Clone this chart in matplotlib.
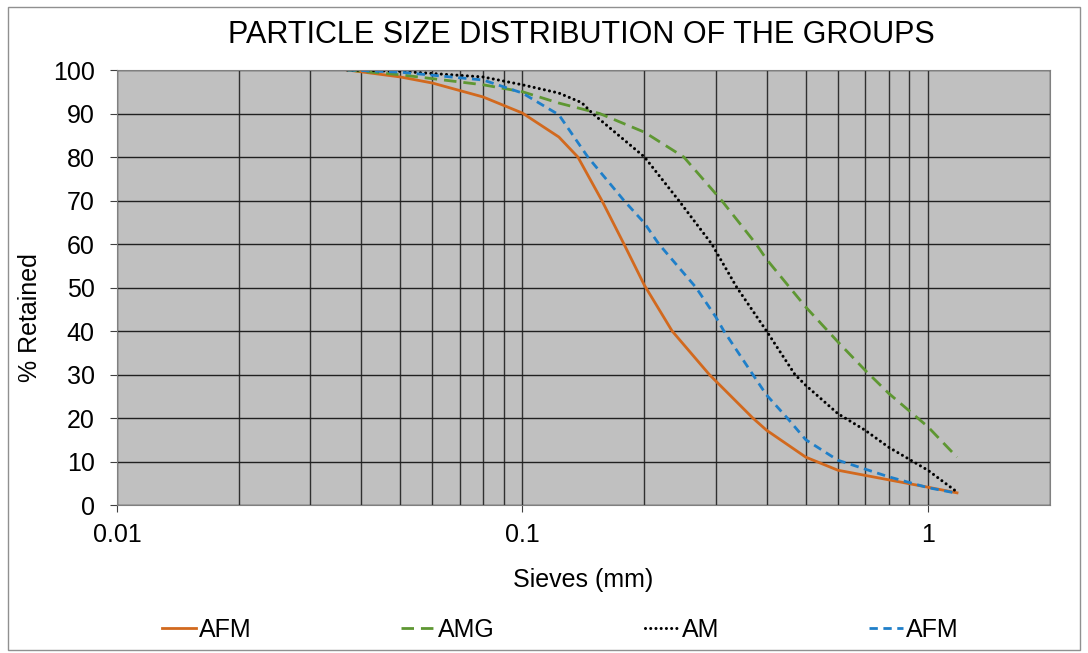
import numpy as np
import matplotlib.pyplot as plt
from matplotlib.patches import Rectangle
from matplotlib.ticker import FixedLocator, NullFormatter

plt.rcParams['font.family'] = ['Liberation Sans', 'DejaVu Sans']

# sieve sizes (mm) and % retained
afm1_x = [0.037, 0.05, 0.06, 0.08, 0.1, 0.123, 0.137, 0.157, 0.178, 0.2, 0.234, 0.289, 0.37, 0.4, 0.5, 0.6, 0.8, 1.0, 1.18]
afm1_y = [100, 98.4, 97, 93.8, 90.1, 84.6, 80, 70, 60, 50.5, 40, 30, 20, 17.2, 11, 8, 5.8, 4.1, 2.8]

amg_x = [0.037, 0.05, 0.08, 0.1, 0.123, 0.155, 0.2, 0.25, 0.31, 0.377, 0.4, 0.5, 0.6, 0.7, 0.8, 1.0, 1.18]
amg_y = [100, 98.9, 96.6, 95, 92.4, 90, 85.7, 80, 70, 60, 56.5, 45.5, 37.5, 31, 25.7, 18, 11]

am_x = [0.037, 0.05, 0.08, 0.1, 0.123, 0.14, 0.149, 0.2, 0.243, 0.293, 0.338, 0.4, 0.47, 0.5, 0.6, 0.7, 0.8, 1.0, 1.18]
am_y = [100, 99.7, 98.4, 96.6, 94.7, 92.5, 90, 80, 70, 60, 50, 40, 30, 27.5, 21, 17.2, 13.3, 8, 3]

afm2_x = [0.037, 0.05, 0.08, 0.1, 0.123, 0.145, 0.178, 0.2, 0.217, 0.268, 0.3, 0.314, 0.37, 0.4, 0.45, 0.5, 0.6, 0.8, 1.0, 1.18]
afm2_y = [100, 99.5, 97.7, 94.7, 89.7, 80, 70, 64.8, 60, 50, 43.2, 40, 30, 25.3, 20, 15, 10.3, 6.5, 4, 2.7]

fig = plt.figure(figsize=(10.88, 6.53), dpi=100)
ax = fig.add_axes([0.1075, 0.2266, 0.8575, 0.6662])
ax.set_facecolor('#C0C0C0')

ax.plot(afm1_x, afm1_y, color='#D2691E', lw=2, label='AFM')
ax.plot(amg_x, amg_y, color='#5E9732', lw=2, dashes=(4.5, 2.5), label='AMG')
ax.plot(am_x, am_y, color='black', lw=2.2, dashes=(0.01, 1.7), dash_capstyle='round', label='AM')
ax.plot(afm2_x, afm2_y, color='#1F7FC9', lw=2, dashes=(3, 2), label='AFM')

ax.set_xscale('log')
ax.set_xlim(0.01, 2)
ax.set_ylim(0, 100)
ax.set_yticks(np.arange(0, 101, 10))
ax.xaxis.set_major_locator(FixedLocator([0.01, 0.1, 1]))
ax.set_xticklabels(['0.01', '0.1', '1'])
minor = [m * d for d in (0.01, 0.1, 1) for m in range(2, 10)]
ax.xaxis.set_minor_locator(FixedLocator(minor))
ax.xaxis.set_minor_formatter(NullFormatter())
ax.grid(True, which='both', axis='x', color='#303030', lw=1)
ax.grid(True, which='major', axis='y', color='#202020', lw=1)
ax.set_axisbelow(True)
ax.tick_params(axis='both', which='major', labelsize=18, length=5, color='#404040')
ax.tick_params(axis='x', which='minor', length=0)
ax.tick_params(axis='x', pad=8)
ax.tick_params(axis='y', pad=11)
for s in ax.spines.values():
    s.set_color('#808080')

fig.text(0.534, 0.946, 'PARTICLE SIZE DISTRIBUTION OF THE GROUPS', ha='center', va='center', fontsize=22)
fig.text(0.536, 0.112, 'Sieves (mm)', ha='center', va='center', fontsize=18)
fig.text(0.028, 0.513, '% Retained', ha='center', va='center', rotation=90, fontsize=18)

fig.legend(loc='center', bbox_to_anchor=(0.515, 0.035), ncol=4, frameon=False, fontsize=18,
           handlelength=1.36, handletextpad=0.12, columnspacing=6.0)

fig.patches.append(Rectangle((0.007, 0.005), 0.986, 0.984, transform=fig.transFigure,
                             fill=False, edgecolor='#909090', lw=1))

fig.savefig('out.png', dpi=100)
